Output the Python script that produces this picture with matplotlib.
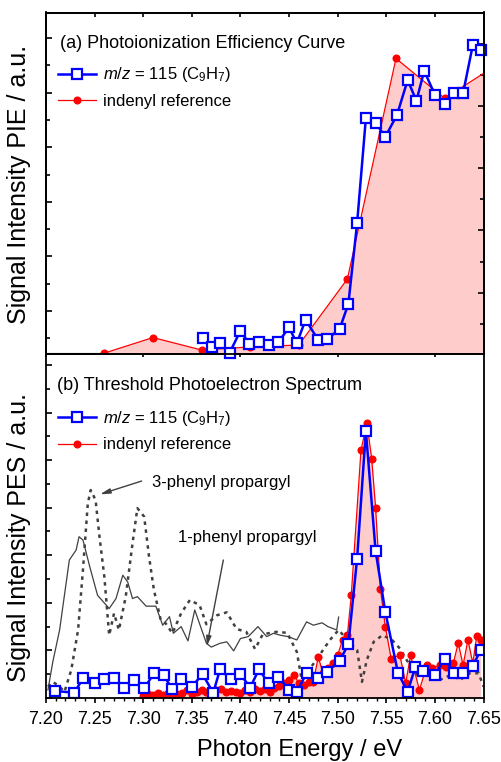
import numpy as np
import matplotlib
matplotlib.use('Agg')
import matplotlib.pyplot as plt
from matplotlib.ticker import MultipleLocator, NullFormatter
from matplotlib.lines import Line2D

plt.rcParams['font.family'] = ['Liberation Sans', 'DejaVu Sans']
plt.rcParams['mathtext.fontset'] = 'custom'
plt.rcParams['mathtext.rm'] = 'Liberation Sans'
plt.rcParams['mathtext.it'] = 'Liberation Sans:italic'

# ---- (a) PIE curve ----
pie_e = [7.361, 7.371, 7.379, 7.389, 7.400, 7.409, 7.419, 7.429, 7.439, 7.450,
         7.458, 7.467, 7.480, 7.489, 7.502, 7.511, 7.520, 7.529, 7.539, 7.549,
         7.561, 7.572, 7.581, 7.589, 7.600, 7.610, 7.620, 7.629, 7.639, 7.647]
pie_c9h7 = [0.50, 0.35, 0.41, 0.24, 0.64, 0.40, 0.44, 0.38, 0.43, 0.70,
            0.41, 0.84, 0.47, 0.48, 0.67, 1.13, 2.61, 4.53, 4.45, 4.19,
            4.59, 5.23, 4.85, 5.40, 4.96, 4.79, 4.99, 4.99, 5.87, 5.78]
pie_ref_e = [7.26, 7.31, 7.36, 7.41, 7.46, 7.51, 7.56, 7.61, 7.66]
pie_ref = [0.03, 0.28, 0.08, 0.13, 0.16, 1.22, 4.76, 4.12, 4.62]

# ---- (b) TPES ----
pes_e = [7.209, 7.229, 7.238, 7.250, 7.260, 7.270, 7.280, 7.290, 7.301, 7.311,
         7.321, 7.330, 7.339, 7.350, 7.361, 7.372, 7.379, 7.390, 7.400, 7.410,
         7.419, 7.429, 7.439, 7.450, 7.458, 7.468, 7.480, 7.489, 7.502, 7.511,
         7.520, 7.529, 7.539, 7.549, 7.562, 7.572, 7.580, 7.588, 7.600, 7.610,
         7.620, 7.629, 7.639, 7.647]
pes_c9h7 = [0.15, 0.11, 0.41, 0.31, 0.39, 0.41, 0.20, 0.38, 0.20, 0.52,
            0.48, 0.18, 0.39, 0.24, 0.50, 0.11, 0.60, 0.40, 0.50, 0.22,
            0.60, 0.31, 0.45, 0.17, 0.13, 0.52, 0.43, 0.55, 0.78, 1.13,
            2.93, 5.62, 3.09, 1.81, 0.53, 0.13, 0.66, 0.57, 0.48, 0.83,
            0.52, 0.52, 0.67, 1.01]
pes_ref_e = [7.300, 7.305, 7.310, 7.315, 7.320, 7.325, 7.330, 7.335, 7.340, 7.345,
             7.350, 7.355, 7.360, 7.365, 7.370, 7.375, 7.380, 7.385, 7.390, 7.395,
             7.400, 7.405, 7.410, 7.415, 7.420, 7.425, 7.430, 7.435, 7.440, 7.445,
             7.450, 7.455, 7.460, 7.465, 7.470, 7.475, 7.480, 7.485, 7.490, 7.495,
             7.500, 7.505, 7.510, 7.514, 7.524, 7.530, 7.535, 7.539, 7.544, 7.549,
             7.555, 7.564, 7.570, 7.575, 7.584, 7.592, 7.597, 7.605, 7.611, 7.619,
             7.624, 7.629, 7.634, 7.639, 7.643, 7.647]
pes_ref = [0.04, 0.08, 0.06, 0.11, 0.06, 0.11, 0.04, 0.08, 0.11, 0.17,
           0.08, 0.13, 0.17, 0.13, 0.08, 0.17, 0.19, 0.13, 0.15, 0.13,
           0.11, 0.17, 0.13, 0.19, 0.15, 0.19, 0.13, 0.21, 0.25, 0.32,
           0.38, 0.48, 0.32, 0.27, 0.34, 0.34, 0.86, 0.52, 0.62, 0.73,
           0.90, 1.22, 1.32, 2.16, 5.21, 5.78, 5.03, 4.00, 2.29, 1.50,
           0.83, 0.90, 0.31, 0.90, 0.17, 0.69, 0.62, 0.69, 0.66, 0.73,
           1.16, 0.69, 1.22, 0.73, 1.30, 1.22]

# 1-phenyl propargyl (solid)
ph1_e = [7.202, 7.207, 7.214, 7.224, 7.231, 7.234, 7.238, 7.245, 7.253, 7.265,
         7.272, 7.279, 7.284, 7.289, 7.294, 7.303, 7.313, 7.320, 7.327, 7.331,
         7.339, 7.346, 7.353, 7.365, 7.370, 7.379, 7.386, 7.393, 7.400, 7.408,
         7.418, 7.427, 7.434, 7.441, 7.449, 7.458, 7.468, 7.475, 7.484, 7.490,
         7.499, 7.501]
ph1 = [0.17, 0.76, 1.43, 2.90, 3.11, 3.39, 3.32, 2.76, 2.16, 1.88,
       2.09, 2.58, 2.44, 2.09, 2.13, 1.93, 1.93, 1.53, 1.71, 1.36,
       1.50, 1.20, 1.85, 1.15, 1.07, 1.15, 1.18, 0.99, 1.25, 1.29,
       1.50, 1.29, 1.36, 1.32, 1.29, 1.22, 1.60, 1.53, 1.58, 1.50,
       1.43, 1.70]

# 3-phenyl propargyl (dashed)
ph3_e = [7.202, 7.207, 7.214, 7.219, 7.226, 7.233, 7.238, 7.243, 7.246, 7.251,
         7.255, 7.260, 7.265, 7.270, 7.275, 7.282, 7.289, 7.294, 7.301, 7.306,
         7.311, 7.318, 7.323, 7.330, 7.339, 7.348, 7.358, 7.365, 7.376, 7.386,
         7.396, 7.406, 7.415, 7.423, 7.437, 7.448, 7.458, 7.463, 7.478, 7.492,
         7.501, 7.513, 7.520, 7.525, 7.530, 7.537, 7.546, 7.556, 7.564, 7.573,
         7.583, 7.593, 7.605, 7.616, 7.626, 7.636, 7.645, 7.650]
ph3 = [0.24, 0.34, 0.24, 0.13, 0.59, 1.43, 2.69, 4.09, 4.37, 4.16,
       3.39, 2.55, 1.32, 1.78, 1.43, 2.13, 3.25, 3.99, 3.81, 2.97,
       2.27, 1.64, 1.57, 1.36, 1.78, 2.06, 1.95, 1.55, 1.74, 1.80,
       1.45, 1.39, 1.03, 1.34, 1.39, 1.37, 0.97, 0.38, 0.80, 1.22,
       1.43, 1.15, 1.01, 0.34, 0.80, 1.18, 1.32, 1.22, 1.04, 0.73,
       0.45, 0.59, 0.38, 0.48, 0.38, 0.52, 0.52, 0.24]

blue = '#0000ff'
red = '#ff0000'
pink = '#ffcccc'
grey = '#404040'
legend_label = r'$\it{m/z}$ = 115 (C$_9$H$_7$)'

fig = plt.figure(figsize=(5.01, 7.62), dpi=100)
W, H = 501, 762
ax1 = fig.add_axes([46 / W, 1 - 353.5 / H, 437.5 / W, 341 / H])
ax2 = fig.add_axes([46 / W, 1 - 698 / H, 437.5 / W, 344.5 / H])
axr = ax1.twinx()

# panel a
axr.fill_between(pie_ref_e, pie_ref, 0, color=pink, lw=0)
axr.plot(pie_ref_e, pie_ref, '-o', color=red, lw=0.9, ms=4.8)
ax1.plot(pie_e, pie_c9h7, '-s', color=blue, lw=1.8, ms=7.5, mfc='white', mec=blue, mew=1.6,
         clip_on=False)
ax1.set_zorder(axr.get_zorder() + 1)
ax1.patch.set_visible(False)

ax1.set_xlim(7.20, 7.65)
ax1.set_ylim(0.222, 6.467)
axr.set_ylim(0.024, 5.498)

# panel b
ax2.fill_between(pes_ref_e, pes_ref, 0, color=pink, lw=0)
ax2.plot(ph1_e, ph1, '-', color=grey, lw=0.9)
ax2.plot(ph3_e, ph3, color=grey, lw=1.8, ls=(0, (1.4, 1.8)))
ax2.plot(pes_ref_e, pes_ref, '-o', color=red, lw=0.9, ms=4.8)
ax2.plot(pes_e, pes_c9h7, '-s', color=blue, lw=1.8, ms=7.5, mfc='white', mec=blue, mew=1.6)
ax2.set_xlim(7.20, 7.65)
ax2.set_ylim(0, 7.24)

# ticks
for ax in (ax1, ax2, axr):
    for s in ax.spines.values():
        s.set_linewidth(1.3)
ax1.xaxis.set_major_locator(MultipleLocator(0.05))
ax1.tick_params(axis='x', which='major', direction='in', top=True, bottom=False,
                labelbottom=False, length=3, width=1.2)
ax1.yaxis.set_major_locator(MultipleLocator(1))
ax1.yaxis.set_minor_locator(MultipleLocator(0.5))
ax1.tick_params(axis='y', which='both', direction='in', left=True, right=False,
                labelleft=False, width=1.2)
ax1.tick_params(axis='y', which='major', length=4.3)
ax1.tick_params(axis='y', which='minor', length=3)
axr.yaxis.set_major_locator(MultipleLocator(1))
axr.yaxis.set_minor_locator(MultipleLocator(0.5))
axr.tick_params(axis='y', which='both', direction='in', labelright=False, width=1.2)
axr.tick_params(axis='y', which='major', length=4.3)
axr.tick_params(axis='y', which='minor', length=3)

ax2.xaxis.set_major_locator(MultipleLocator(0.05))
ax2.xaxis.set_minor_locator(MultipleLocator(0.01))
ax2.xaxis.set_major_formatter(matplotlib.ticker.FormatStrFormatter('%.2f'))
ax2.tick_params(axis='x', which='major', direction='out', length=3.5, width=1.2,
                labelsize=13, pad=5.5)
ax2.tick_params(axis='x', which='minor', direction='out', length=2, width=1)
ax2.secondary_xaxis('top').tick_params(direction='in', length=3, width=1.2, labeltop=False)
ax2.yaxis.set_major_locator(MultipleLocator(1))
ax2.yaxis.set_minor_locator(MultipleLocator(0.5))
ax2.yaxis.set_major_formatter(NullFormatter())
ax2.tick_params(axis='y', which='both', direction='in', width=1.2)
ax2.tick_params(axis='y', which='major', length=4.3)
ax2.tick_params(axis='y', which='minor', length=3)

# texts
ax1.text(0.032, 0.909, '(a) Photoionization Efficiency Curve', transform=ax1.transAxes,
         fontsize=13, va='center')
ax2.text(0.0245, 0.908, '(b) Threshold Photoelectron Spectrum', transform=ax2.transAxes,
         fontsize=13, va='center')

handles = [Line2D([], [], color=blue, marker='s', lw=1.8, ms=7.5, mfc='white', mew=1.6),
           Line2D([], [], color=red, marker='o', lw=0.9, ms=4.8)]
labels = [legend_label, 'indenyl reference']
for ax, y0 in ((ax1, 0.845), (ax2, 0.838)):
    ax.legend(handles, labels, loc='upper left', bbox_to_anchor=(0.027, y0), frameon=False,
              fontsize=12, handlelength=2.3, handletextpad=0.4, borderpad=0,
              borderaxespad=0, labelspacing=0.55)

ax2.text(7.3087, 4.52, '3-phenyl propargyl', fontsize=12, va='center', ha='left')
ax2.annotate('', xy=(7.2555, 4.28), xytext=(7.2984, 4.56),
             arrowprops=dict(arrowstyle='-|>,head_length=0.6,head_width=0.15',
                             color=grey, lw=1, shrinkA=0, shrinkB=0))
ax2.text(7.3361, 3.37, '1-phenyl propargyl', fontsize=12, va='center', ha='left')
ax2.annotate('', xy=(7.3653, 1.08), xytext=(7.3824, 2.90),
             arrowprops=dict(arrowstyle='-|>,head_length=0.6,head_width=0.15',
                             color=grey, lw=1, shrinkA=0, shrinkB=0))

fig.text(19 / W, 1 - 184 / H, 'Signal Intensity PIE / a.u.', rotation=90,
         ha='center', va='center', fontsize=18)
fig.text(19 / W, 1 - 538 / H, 'Signal Intensity PES / a.u.', rotation=90,
         ha='center', va='center', fontsize=18)
fig.text(300 / W, 1 - 756 / H, 'Photon Energy / eV', ha='center', va='baseline', fontsize=17)

fig.savefig('out.png', dpi=100)
